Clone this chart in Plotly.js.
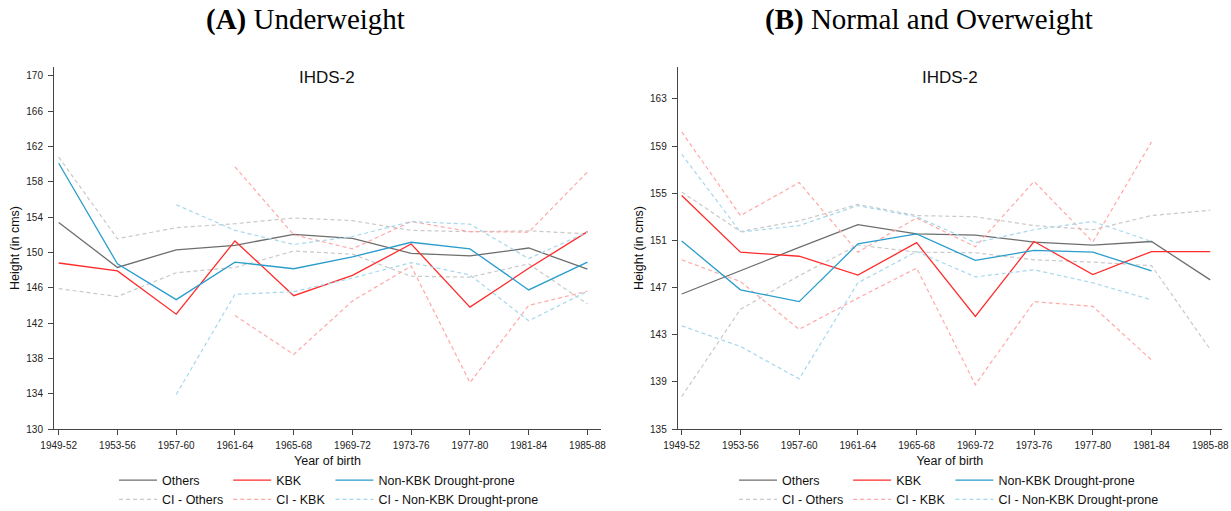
<!DOCTYPE html>
<html><head><meta charset="utf-8">
<script src="https://cdn.plot.ly/plotly-3.0.1.min.js"></script>
<style>html,body{margin:0;padding:0;background:#fff;} #chart{width:1231px;height:511px;}</style>
</head><body><div id="chart"></div>
<script>
const years = ['1949-52','1953-56','1957-60','1961-64','1965-68','1969-72','1973-76','1977-80','1981-84','1985-88'];

// Panel A: Underweight
const A_others = [153.4, 148.3, 150.3, 150.8, 152.05, 151.6, 149.9, 149.6, 150.5, 148.1];
const A_kbk    = [148.8, 147.9, 143.0, 151.3, 145.1, 147.4, 150.95, 143.8, 148.2, 152.35];
const A_nonkbk = [160.1, 148.7, 144.65, 148.9, 148.15, 149.5, 151.15, 150.4, 145.75, 148.9];
const A_ciOthersUp = [160.8, 151.55, 152.8, 153.25, 153.9, 153.6, 152.5, 152.35, 152.45, 152.1];
const A_ciOthersLo = [145.9, 145.0, 147.7, 148.3, 150.15, 149.8, 147.3, 147.2, 148.7, 144.15];
const A_ciKbkUp = [null, null, null, 159.7, 152.0, 150.4, 153.5, 152.35, 152.3, 159.1];
const A_ciKbkLo = [null, null, null, 142.85, 138.45, 144.5, 148.45, 135.25, 144.0, 145.6];
const A_ciNonUp = [null, null, 155.4, 152.5, 150.9, 151.8, 153.5, 153.2, 149.3, 152.3];
const A_ciNonLo = [null, null, 133.9, 145.25, 145.55, 147.1, 148.85, 147.45, 142.25, 145.6];

// Panel B: Normal and Overweight
const B_others = [146.45, 148.45, 150.4, 152.33, 151.55, 151.45, 150.85, 150.6, 150.9, 147.65];
const B_kbk    = [154.8, 150.0, 149.65, 148.05, 150.8, 144.55, 150.9, 148.1, 150.05, 150.05];
const B_nonkbk = [150.95, 146.8, 145.8, 150.7, 151.55, 149.3, 150.15, 150.0, 148.4, null];
const B_ciOthersUp = [155.1, 151.75, 152.65, 154.05, 153.1, 153.0, 152.25, 151.9, 153.1, 153.55];
const B_ciOthersLo = [137.75, 145.15, 148.0, 150.6, 150.0, 149.95, 149.35, 149.15, 148.85, 141.75];
const B_ciKbkUp = [160.2, 153.1, 155.9, 150.0, 152.9, 150.45, 156.0, 150.85, 159.35, null];
const B_ciKbkLo = [149.35, 147.5, 143.45, 146.1, 148.65, 138.75, 145.8, 145.4, 140.85, null];
const B_ciNonUp = [158.3, 151.7, 152.25, 153.95, 153.0, 150.8, 151.9, 152.6, 150.9, null];
const B_ciNonLo = [143.75, 142.0, 139.25, 147.4, 150.05, 147.9, 148.5, 147.4, 145.95, null];

const yTicksA = [130, 134, 138, 142, 146, 150, 154, 158, 162, 166, 170];
const yTicksB = [135, 139, 143, 147, 151, 155, 159, 163];

const seriesNames = ['Others', 'KBK', 'Non-KBK Drought-prone'];
const ciNames = ['CI - Others', 'CI - KBK', 'CI - Non-KBK Drought-prone'];
const solidColors = ['#6e6e6e', '#ff2b2b', '#2a9dcc'];
const ciColors = ['#c9c9c9', '#ffa8a8', '#a6d8ec'];

function panelTraces(xa, ya, leg, mains, ciUps, ciLos) {
  const tr = [];
  for (let i = 0; i < 3; i++) {
    tr.push({x: years, y: mains[i], xaxis: xa, yaxis: ya, legend: leg, type: 'scatter', mode: 'lines',
      name: seriesNames[i], legendgroup: leg + 'g' + i, line: {color: solidColors[i], width: 1.3}, hoverinfo: 'skip'});
    tr.push({x: years, y: ciUps[i], xaxis: xa, yaxis: ya, legend: leg, type: 'scatter', mode: 'lines',
      name: ciNames[i], legendgroup: leg + 'g' + i, line: {color: ciColors[i], width: 1.2, dash: '4px,3px'}, hoverinfo: 'skip'});
    tr.push({x: years, y: ciLos[i], xaxis: xa, yaxis: ya, legend: leg, type: 'scatter', mode: 'lines',
      name: ciNames[i], legendgroup: leg + 'g' + i, showlegend: false, line: {color: ciColors[i], width: 1.2, dash: '4px,3px'}, hoverinfo: 'skip'});
  }
  return tr;
}

const traces = [].concat(
  panelTraces('x', 'y', 'legend', [A_others, A_kbk, A_nonkbk], [A_ciOthersUp, A_ciKbkUp, A_ciNonUp], [A_ciOthersLo, A_ciKbkLo, A_ciNonLo]),
  panelTraces('x2', 'y2', 'legend2', [B_others, B_kbk, B_nonkbk], [B_ciOthersUp, B_ciKbkUp, B_ciNonUp], [B_ciOthersLo, B_ciKbkLo, B_ciNonLo])
);

const sans = 'Liberation Sans, Arial, sans-serif';
const axColor = '#444';
function xAxis(domain, anchor, range) {
  return {domain: domain, anchor: anchor, type: 'category', range: range, showline: true, linecolor: axColor, linewidth: 1,
    ticks: 'outside', ticklen: 5, tickcolor: axColor, tickwidth: 1, tickfont: {size: 10, color: '#222', family: sans},
    ticklabelstandoff: 2,
    showgrid: false, zeroline: false, fixedrange: true,
    title: {text: 'Year of birth', font: {size: 12.5, color: '#111', family: sans}, standoff: 6}};
}
function yAxis(anchor, range, ticks) {
  return {anchor: anchor, domain: [0, 1], range: range, tickvals: ticks, showline: true, linecolor: axColor, linewidth: 1,
    ticks: 'outside', ticklen: 5, tickcolor: axColor, tickwidth: 1, tickfont: {size: 10, color: '#222', family: sans},
    ticklabelstandoff: 3,
    showgrid: false, zeroline: false, fixedrange: true,
    title: {text: 'Height (in cms)', font: {size: 12.5, color: '#111', family: sans}, standoff: 3}};
}
function legendCfg(x) {
  return {orientation: 'h', traceorder: 'grouped', x: x, xanchor: 'left', y: -0.1006, yanchor: 'top',
    itemwidth: 38, tracegroupgap: 0, bgcolor: 'rgba(0,0,0,0)', font: {size: 12.5, color: '#111', family: sans}};
}

const layout = {
  width: 1231, height: 511,
  margin: {l: 54, r: 9, t: 67, b: 82, autoexpand: false},
  paper_bgcolor: '#fff', plot_bgcolor: '#fff',
  showlegend: true,
  xaxis: xAxis([0, 0.4683], 'y', [-0.08, 9.23]),
  yaxis: yAxis('x', [130, 171], yTicksA),
  xaxis2: xAxis([0.534, 1], 'y2', [-0.068, 9.2]),
  yaxis2: yAxis('x2', [135, 165.7], yTicksB),
  legend: legendCfg(0.0514),
  legend2: legendCfg(0.5822),
  annotations: [
    {text: '<b>(A)</b> Underweight', xref: 'paper', yref: 'paper', x: 0.2149, y: 1.13, xanchor: 'center', yanchor: 'middle',
      showarrow: false, font: {family: 'Liberation Serif, Times New Roman, serif', size: 29, color: '#000'}},
    {text: '<b>(B)</b> Normal and Overweight', xref: 'paper', yref: 'paper', x: 0.749, y: 1.13, xanchor: 'center', yanchor: 'middle',
      showarrow: false, font: {family: 'Liberation Serif, Times New Roman, serif', size: 29, color: '#000'}},
    {text: 'IHDS-2', xref: 'x domain', yref: 'paper', x: 0.5, y: 0.972, xanchor: 'center', yanchor: 'middle',
      showarrow: false, font: {family: sans, size: 17, color: '#111'}},
    {text: 'IHDS-2', xref: 'x2 domain', yref: 'paper', x: 0.5, y: 0.972, xanchor: 'center', yanchor: 'middle',
      showarrow: false, font: {family: sans, size: 17, color: '#111'}}
  ]
};

Plotly.newPlot('chart', traces, layout, {staticPlot: true, displayModeBar: false});
</script>
</body></html>
